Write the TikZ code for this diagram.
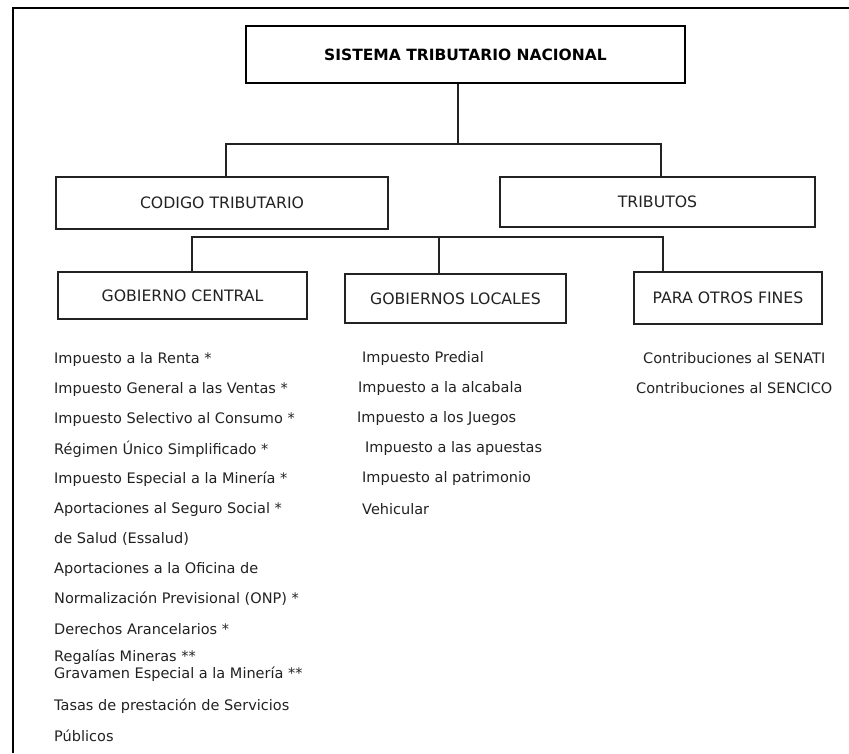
\documentclass[tikz,border=0pt]{standalone}
\usepackage{fontspec}
\setmainfont{DejaVu Sans}
\definecolor{ink}{HTML}{222222}
\begin{document}
\begin{tikzpicture}[x=1pt,y=-1pt,
  frameline/.style={line width=2pt,black},
  titlebox/.style={draw=black,line width=2.2pt,inner sep=0pt,text=black,
    font=\fontsize{15.5}{18}\selectfont\bfseries},
  headbox/.style={draw=ink,line width=1.3pt,inner sep=0pt,text=ink,
    font=\fontsize{15.7}{18}\selectfont},
  conn/.style={draw=ink,line width=1.3pt},
  item/.style={anchor=west,inner sep=0pt,text=ink,font=\fontsize{14.5}{17}\selectfont}]
\useasboundingbox (0,0) rectangle (849,753);
\fill[white] (0,0) rectangle (849,753);
% frame
\coordinate (fa) at (13,753);
\coordinate (fb) at (13,8);
\coordinate (fc) at (849,8);
\draw[frameline] (fa) -- (fb) -- (fc);
% boxes
\node[titlebox,minimum width=439pt,minimum height=57pt] (title) at (465.5,54.5) {SISTEMA TRIBUTARIO NACIONAL};
\node[headbox,minimum width=332pt,minimum height=52pt] (codigo) at (222,203) {CODIGO TRIBUTARIO};
\node[headbox,minimum width=315pt,minimum height=50pt] (tributos) at (657.5,202) {TRIBUTOS};
\node[headbox,minimum width=249pt,minimum height=47pt] (gc) at (182.5,295.5) {GOBIERNO CENTRAL};
\node[headbox,minimum width=221pt,minimum height=49pt] (gl) at (455.5,298.5) {GOBIERNOS LOCALES};
\node[headbox,minimum width=188pt,minimum height=52pt] (pof) at (728,298) {PARA OTROS FINES};
% connectors
\coordinate (b1L) at (226,144);
\coordinate (b1M) at (458,144);
\coordinate (b1R) at (661,144);
\draw[conn] (title.south -| b1M) -- (b1M);
\draw[conn] (codigo.north -| b1L) -- (b1L) -- (b1R) -- (tributos.north -| b1R);
\coordinate (b2L) at (192,237);
\coordinate (b2M) at (439,237);
\coordinate (b2R) at (663,237);
\draw[conn] (gc.north -| b2L) -- (b2L) -- (b2R) -- (pof.north -| b2R);
\draw[conn] (b2M) -- (gl.north -| b2M);
% Gobierno central list
\node[item] (c1) at (54,359) {Impuesto a la Renta *};
\node[item] (c2) at (54,389) {Impuesto General a las Ventas *};
\node[item] (c3) at (54,419) {Impuesto Selectivo al Consumo *};
\node[item] (c4) at (54,449) {Régimen Único Simplificado *};
\node[item] (c5) at (54,479) {Impuesto Especial a la Minería *};
\node[item] (c6) at (54,509) {Aportaciones al Seguro Social *};
\node[item] (c7) at (54,539) {de Salud (Essalud)};
\node[item] (c8) at (54,569) {Aportaciones a la Oficina de};
\node[item] (c9) at (54,599) {Normalización Previsional (ONP) *};
\node[item] (c10) at (54,629) {Derechos Arancelarios *};
\node[item] (c11) at (54,657) {Regalías Mineras **};
\node[item] (c12) at (54,674) {Gravamen Especial a la Minería **};
\node[item] (c13) at (54,706) {Tasas de prestación de Servicios};
\node[item] (c14) at (54,736) {Públicos};
% Gobiernos locales list
\node[item] (l1) at (362,358) {Impuesto Predial};
\node[item] (l2) at (358,388) {Impuesto a la alcabala};
\node[item] (l3) at (357,418) {Impuesto a los Juegos};
\node[item] (l4) at (365,448) {Impuesto a las apuestas};
\node[item] (l5) at (362,478) {Impuesto al patrimonio};
\node[item] (l6) at (362,509) {Vehicular};
% Otros fines list
\node[item] (o1) at (643,358) {Contribuciones al SENATI};
\node[item] (o2) at (636,388) {Contribuciones al SENCICO};
\end{tikzpicture}
\end{document}
